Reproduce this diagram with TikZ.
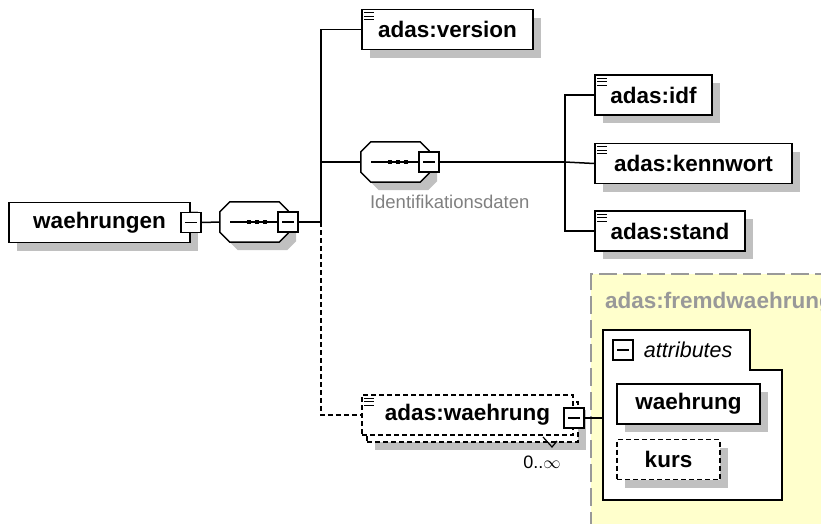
\documentclass[tikz,border=0pt]{standalone}
\usepackage{fontspec}
\setmainfont{Liberation Sans}
\usetikzlibrary{positioning, shadows, calc}

\definecolor{shadowgray}{RGB}{192,192,192}
\definecolor{groupyellow}{RGB}{255,255,204}
\definecolor{labelgray}{RGB}{128,128,128}
\definecolor{groupgray}{RGB}{153,153,153}

% small "documentation" lines in the corner of an element
\newcommand{\docicon}[1]{%
  \foreach \dy in {4,7.5,11}
    {\draw[line width=1.3pt] ($(#1.north west)+(3,\dy)$) -- ++(10,0);}}
% outline of a sequence compositor
\newcommand{\octagon}[1]{%
  ($(#1.north west)+(10,0)$) -- ($(#1.north east)+(-9,0)$)
  -- ($(#1.north east)+(0,9)$) -- ($(#1.south east)+(0,-9)$)
  -- ($(#1.south east)+(-9,0)$) -- ($(#1.south west)+(10,0)$)
  -- ($(#1.south west)+(0,-10)$) -- ($(#1.north west)+(0,10)$) -- cycle}
\newcommand{\seqshape}[1]{%
  \node[seq] (#1shadow) at ($(#1.center)+(8,8)$) {};
  \fill[shadowgray] \octagon{#1shadow};
  \draw[line width=1.5pt, fill=white] \octagon{#1};
  \draw[line width=1.3pt] ($(#1.center)+(-24,0)$) -- ++(50,0);
  \foreach \dx in {-7,1,9}
    {\fill ($(#1.center)+(\dx,-2)$) rectangle ++(4,4);}}

\begin{document}
\begin{tikzpicture}[
    x=1pt, y=-1pt,
    shadowed/.style={drop shadow={shadow xshift=8pt, shadow yshift=-8pt,
                     fill=shadowgray, opacity=1}},
    dashlook/.style={dash pattern=on 5pt off 3pt},
    elembase/.style={draw, line width=1.5pt, fill=white, inner sep=0pt,
                     minimum height=40pt, font=\bfseries\fontsize{22.5}{27}\selectfont},
    elem/.style={elembase, shadowed},
    optelem/.style={elem, dashlook},
    btn/.style={draw, line width=1.5pt, fill=white, minimum size=20pt, inner sep=0pt,
                path picture={\draw[line width=1.3pt]
                  ([xshift=4pt]path picture bounding box.west) --
                  ([xshift=-4pt]path picture bounding box.east);}},
    seq/.style={rectangle, inner sep=0pt, minimum width=68pt, minimum height=40pt},
    conn/.style={line width=1.5pt},
]
\useasboundingbox (0,0) rectangle (821,523);

% group of the complex type (right)
\fill[groupyellow] (591,274) rectangle (830,530);
\draw[groupgray, line width=1.5pt, dash pattern=on 18pt off 6pt]
  (591,530) -- (591,274) -- (830,274);
\begin{scope}
  \clip (0,0) rectangle (821,523);
  \node[anchor=west, inner sep=0pt, text=groupgray,
        font=\bfseries\fontsize{22.5}{27}\selectfont] (grouptitle) at (605,303) {adas:fremdwaehrung};
\end{scope}

% attributes
\draw[line width=1.5pt, fill=white] (603,330) -- (750,330) -- (750,370) -- (782,370)
  -- (782,500) -- (603,500) -- cycle;
\coordinate (attrsW) at (603,418);
\node[btn] (attrbtn) at (623,350) {};
\node[right=10pt of attrbtn, inner sep=0pt, font=\itshape\fontsize{21.5}{25}\selectfont] (attrlabel) {attributes};
\node[elem, minimum width=143pt] (attrWaehrung) at (688.5,404) {waehrung};
\node[optelem, minimum width=103pt, below=14pt of attrWaehrung.south west, anchor=north west]
  (attrKurs) {kurs\hspace{19pt}};

% root element and its sequence
\node[elem, minimum width=181pt] (root) at (99.5,222.5) {waehrungen\hspace{9pt}};
\node[btn] (rootbtn) at (root.east) {};
\node[seq] (seqA) at (254,222) {};
\seqshape{seqA}
\node[btn] (seqAbtn) at (seqA.east) {};
\coordinate (busA) at ($(seqAbtn.east)+(22,0)$);

% first level
\node[elem, minimum width=171pt] (version) at (447.5,29.5) {adas:version};
\docicon{version}
\node[seq] (seqB) at (395,162) {};
\seqshape{seqB}
\node[btn] (seqBbtn) at (seqB.east) {};
\node[below right=13pt and 9pt of seqB.south west, text=labelgray, inner sep=0pt,
      font=\fontsize{18.5}{22}\selectfont] (seqBlabel) {Identifikationsdaten};
\coordinate (busB) at (565,162);

\node[optelem, minimum width=211pt] (waehrungElBack) at (472.5,422) {};
\node[elembase, dashlook, minimum width=211pt] (waehrungEl) at (467.5,415) {adas:waehrung\hspace{14pt}};
\docicon{waehrungEl}
\node[btn] (elbtn) at ([yshift=-3pt]waehrungEl.east) {};
\draw[line width=1.2pt] (543,437) -- (552,447) -- (557,441);
\node[inner sep=0pt, font=\fontsize{18}{20}\selectfont] (card) at (542,462) {0..$\infty$};

% second level
\node[elem, minimum width=117pt] (idf) at (653.5,95) {adas:idf};
\node[elem, minimum width=197pt, below=27pt of idf.south west, anchor=north west] (kennwort) {adas:kennwort};
\node[elem, minimum width=150pt, below=26pt of kennwort.south west, anchor=north west] (stand) {adas:stand};
\foreach \n in {idf, kennwort, stand}
  {\docicon{\n}}

% connectors
\draw[conn] (rootbtn.east) -- (seqA.west);
\draw[conn] (seqAbtn.east) -- (busA);
\draw[conn] (busA) |- (version.west);
\draw[conn] (busA) |- (seqB.west);
\draw[conn, dashlook] (busA) |- (waehrungEl.west);
\draw[conn] (seqBbtn.east) -- (busB);
\draw[conn] (busB) |- (idf.west);
\draw[conn] (busB) -- (kennwort.west);
\draw[conn] (busB) |- (stand.west);
\draw[conn] (elbtn.east) -- (attrsW);

\end{tikzpicture}
\end{document}
